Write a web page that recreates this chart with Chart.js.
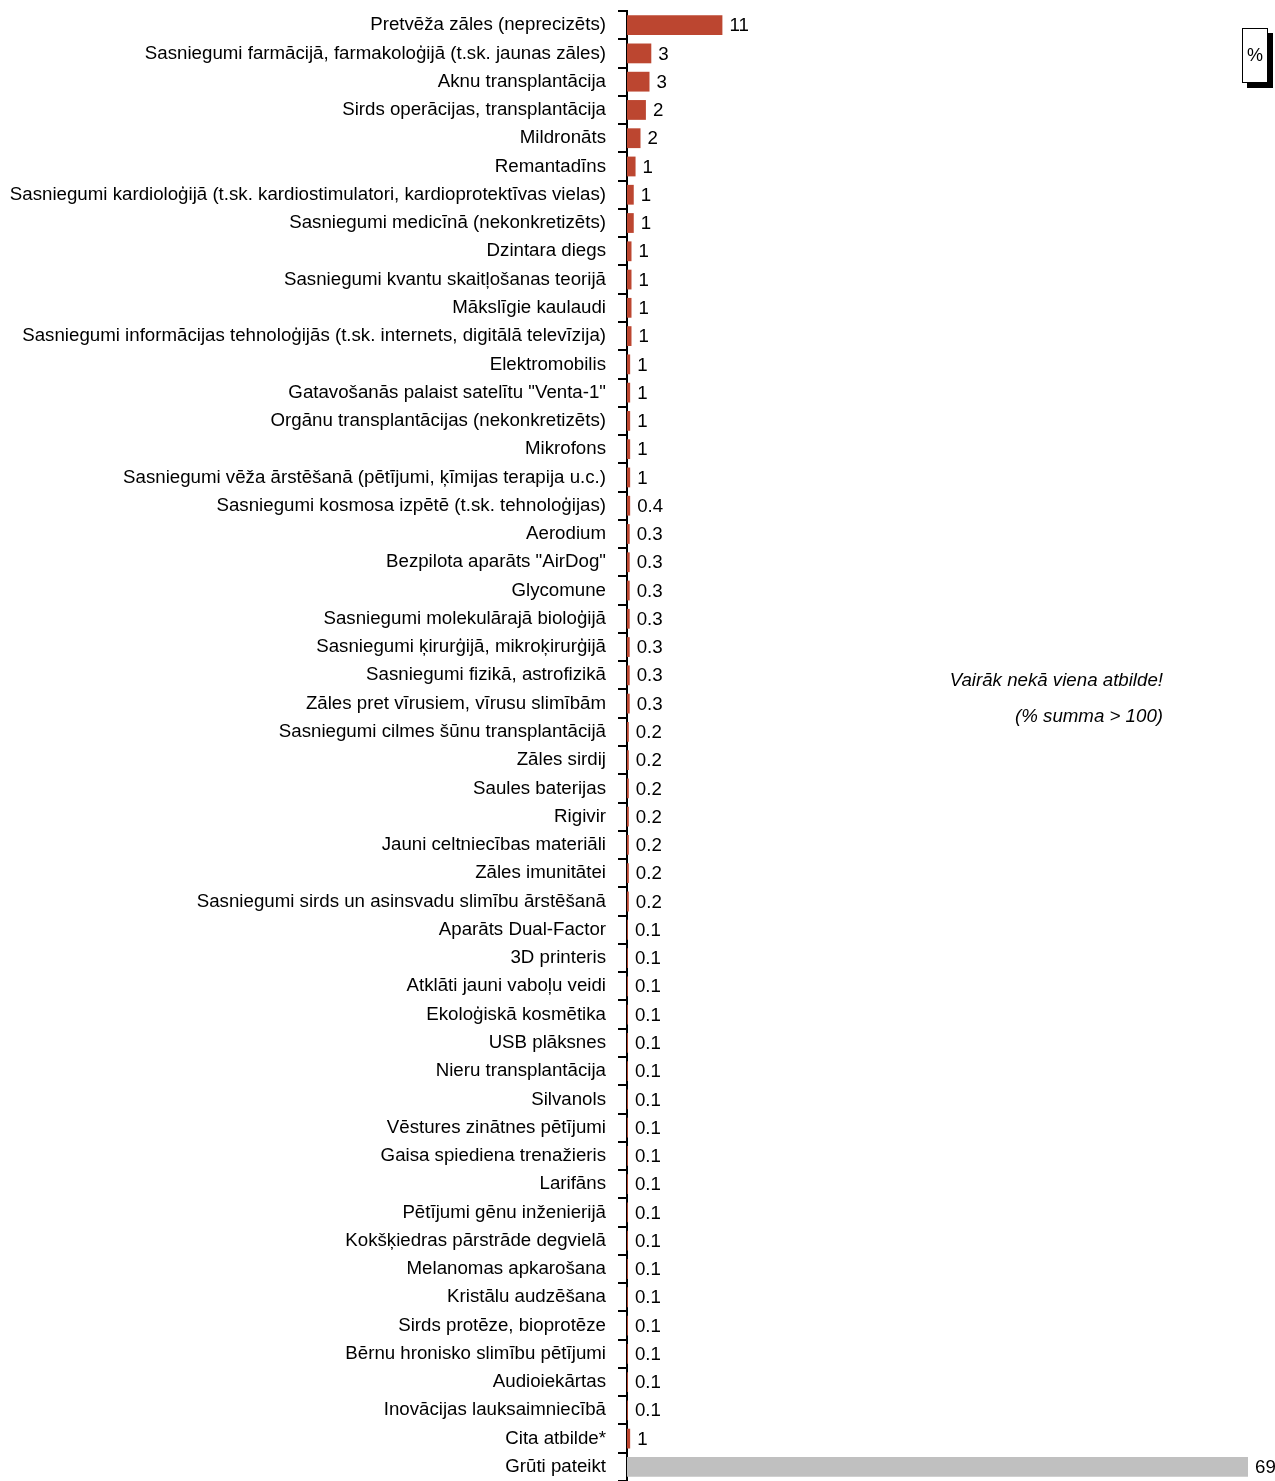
<!DOCTYPE html>
<html>
<head>
<meta charset="utf-8">
<script src="https://cdn.jsdelivr.net/npm/chart.js@4/dist/chart.umd.min.js"></script>
<style>
  body { margin: 0; background: #fff; }
  #wrap { position: relative; width: 1275px; height: 1481px; }
  .note { position: absolute; right: 112px; font: italic 18.7px "Liberation Sans", Arial, sans-serif; color: #000; text-align: right; white-space: nowrap; }
  #pct { position: absolute; left: 1242px; top: 28px; width: 24px; height: 53px; border: 1px solid #000; box-shadow: 5px 5px 0 #000; background: #fff;
         font: 18px "Liberation Sans", Arial, sans-serif; line-height: 53px; text-align: center; }
</style>
</head>
<body>
<div id="wrap">
  <canvas id="chart"></canvas>
  <div class="note" style="top:669px">Vairāk nekā viena atbilde!</div>
  <div class="note" style="top:705px">(% summa &gt; 100)</div>
  <div id="pct">%</div>
</div>
<script>
var categories = [
  'Pretvēža zāles (neprecizēts)',
  'Sasniegumi farmācijā, farmakoloģijā (t.sk. jaunas zāles)',
  'Aknu transplantācija',
  'Sirds operācijas, transplantācija',
  'Mildronāts',
  'Remantadīns',
  'Sasniegumi kardioloģijā (t.sk. kardiostimulatori, kardioprotektīvas vielas)',
  'Sasniegumi medicīnā (nekonkretizēts)',
  'Dzintara diegs',
  'Sasniegumi kvantu skaitļošanas teorijā',
  'Mākslīgie kaulaudi',
  'Sasniegumi informācijas tehnoloģijās (t.sk. internets, digitālā televīzija)',
  'Elektromobilis',
  'Gatavošanās palaist satelītu "Venta-1"',
  'Orgānu transplantācijas (nekonkretizēts)',
  'Mikrofons',
  'Sasniegumi vēža ārstēšanā (pētījumi, ķīmijas terapija u.c.)',
  'Sasniegumi kosmosa izpētē (t.sk. tehnoloģijas)',
  'Aerodium',
  'Bezpilota aparāts "AirDog"',
  'Glycomune',
  'Sasniegumi molekulārajā bioloģijā',
  'Sasniegumi ķirurģijā, mikroķirurģijā',
  'Sasniegumi fizikā, astrofizikā',
  'Zāles pret vīrusiem, vīrusu slimībām',
  'Sasniegumi cilmes šūnu transplantācijā',
  'Zāles sirdij',
  'Saules baterijas',
  'Rigivir',
  'Jauni celtniecības materiāli',
  'Zāles imunitātei',
  'Sasniegumi sirds un asinsvadu slimību ārstēšanā',
  'Aparāts Dual-Factor',
  '3D printeris',
  'Atklāti jauni vaboļu veidi',
  'Ekoloģiskā kosmētika',
  'USB plāksnes',
  'Nieru transplantācija',
  'Silvanols',
  'Vēstures zinātnes pētījumi',
  'Gaisa spiediena trenažieris',
  'Larifāns',
  'Pētījumi gēnu inženierijā',
  'Kokšķiedras pārstrāde degvielā',
  'Melanomas apkarošana',
  'Kristālu audzēšana',
  'Sirds protēze, bioprotēze',
  'Bērnu hronisko slimību pētījumi',
  'Audioiekārtas',
  'Inovācijas lauksaimniecībā',
  'Cita atbilde*',
  'Grūti pateikt'
];

// bar lengths (%)
var values = [
  10.6, 2.7, 2.5, 2.1, 1.5, 0.95, 0.75, 0.75, 0.5, 0.5, 0.5, 0.5,
  0.35, 0.35, 0.35, 0.35, 0.35, 0.35,
  0.3, 0.3, 0.3, 0.3, 0.3, 0.3, 0.3,
  0.2, 0.2, 0.2, 0.2, 0.2, 0.2, 0.2,
  0.1, 0.1, 0.1, 0.1, 0.1, 0.1, 0.1, 0.1, 0.1, 0.1, 0.1, 0.1, 0.1, 0.1, 0.1, 0.1, 0.1, 0.1,
  0.35, 69
];

// printed value labels
var shown = [
  '11', '3', '3', '2', '2', '1', '1', '1', '1', '1', '1', '1',
  '1', '1', '1', '1', '1', '0.4',
  '0.3', '0.3', '0.3', '0.3', '0.3', '0.3', '0.3',
  '0.2', '0.2', '0.2', '0.2', '0.2', '0.2', '0.2',
  '0.1', '0.1', '0.1', '0.1', '0.1', '0.1', '0.1', '0.1', '0.1', '0.1', '0.1', '0.1', '0.1', '0.1', '0.1', '0.1', '0.1', '0.1',
  '1', '69'
];

var FONT = '"Liberation Sans", Arial, sans-serif';

var colors = categories.map(function (c, i) {
  return i == categories.length - 1 ? '#C0C0C0' : '#BC4630';
});

var valueLabels = {
  id: 'valueLabels',
  afterDatasetsDraw: function (chart) {
    var ctx = chart.ctx;
    var meta = chart.getDatasetMeta(0);
    ctx.save();
    ctx.font = '18.7px ' + FONT;
    ctx.fillStyle = '#000';
    ctx.textBaseline = 'middle';
    ctx.textAlign = 'left';
    meta.data.forEach(function (bar, i) {
      var x = Math.max(bar.x, chart.chartArea.left) + 7;
      ctx.fillText(shown[i], x, bar.y + 1);
    });
    ctx.restore();
  }
};

var ctx = document.getElementById('chart');
var myBar = new Chart(ctx, {
  type: 'bar',
  data: {
    labels: categories,
    datasets: [{
      data: values,
      backgroundColor: colors,
      borderWidth: 0,
      barPercentage: 0.7,
      categoryPercentage: 1.0
    }]
  },
  options: {
    indexAxis: 'y',
    responsive: true,
    maintainAspectRatio: false,
    animation: false,
    layout: { padding: { top: 11, right: 27, bottom: 0, left: 0 } },
    plugins: { legend: { display: false }, tooltip: { enabled: false } },
    scales: {
      x: { display: false, min: 0, max: 69 },
      y: {
        grid: { drawOnChartArea: false, drawTicks: true, tickLength: 9, color: '#000', lineWidth: 2, offset: true },
        border: { color: '#000', width: 2 },
        ticks: { autoSkip: false, color: '#000', padding: 12, font: { family: FONT, size: 18.7 } },
        afterFit: function (scale) {
          scale.width = 627;
          scale.paddingTop = 0;
          scale.paddingBottom = 0;
        }
      }
    }
  },
  plugins: [valueLabels]
});
</script>
</body>
</html>
